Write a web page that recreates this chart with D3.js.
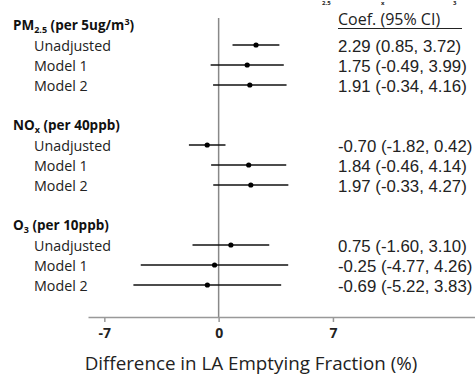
<!DOCTYPE html>
<html>
<head>
<meta charset="utf-8">
<script src="https://cdn.jsdelivr.net/npm/d3@7"></script>
<style>
  body { margin: 0; background: #fff; }
  svg { display: block; }
</style>
</head>
<body>
<div id="chart"></div>
<script>
// group headers, split in parts: [text, kind]
const groupLabels = [
  [["PM", ""], ["2.5", "sub"], [" (per 5ug/m", ""], ["3", "sup"], [")", ""]],
  [["NO", ""], ["x", "sub"], [" (per 40ppb)", ""]],
  [["O", ""], ["3", "sub"], [" (per 10ppb)", ""]]
];
const models = ["Unadjusted", "Model 1", "Model 2"];
const coef  = [2.29, 1.75, 1.91, -0.70, 1.84, 1.97, 0.75, -0.25, -0.69];
const lower = [0.85, -0.49, -0.34, -1.82, -0.46, -0.33, -1.60, -4.77, -5.22];
const upper = [3.72, 3.99, 4.16, 0.42, 4.14, 4.27, 3.10, 4.26, 3.83];
const xTicks = [-7, 0, 7];
const topSubs = [["2.5", 322], ["x", 381], ["3", 453]]; // remains of a title above

const w = 475, h = 377;
const svg = d3.select("#chart").append("svg")
  .attr("width", w).attr("height", h);

const xScale = d3.scaleLinear().domain([-8, 15.7]).range([88, 475]);
// slot 0 = first header, rows every slot, 5 slots per group
const yScale = d3.scaleLinear().domain([0, 13]).range([25, 285]);
const axisY = 317;

const lfont = "'Open Sans', sans-serif";

svg.selectAll("text.top")
  .data(topSubs)
  .enter().append("text")
  .attr("class", "top")
  .attr("x", d => d[1]).attr("y", 5)
  .attr("font-family", lfont).attr("font-weight", "bold")
  .attr("font-size", 6).attr("fill", "#222")
  .text(d => d[0]);

// zero line
svg.append("line")
  .attr("x1", xScale(0)).attr("x2", xScale(0))
  .attr("y1", 18).attr("y2", axisY)
  .attr("stroke", "#888").attr("stroke-width", 1.5);

// x axis
const xAxis = d3.axisBottom(xScale).tickValues(xTicks)
  .tickFormat(d => String(d)).tickSize(5).tickSizeOuter(0);
const gx = svg.append("g")
  .attr("transform", "translate(0," + axisY + ")")
  .call(xAxis);
gx.select(".domain").attr("stroke", "#999").attr("stroke-width", 1.5);
gx.selectAll(".tick line").attr("stroke", "#999").attr("stroke-width", 1.5);
gx.selectAll(".tick text")
  .attr("y", 11)
  .attr("font-family", lfont).attr("font-weight", "bold")
  .attr("font-size", 14).attr("fill", "#222");

svg.append("text")
  .attr("x", 251).attr("y", 370)
  .attr("text-anchor", "middle")
  .attr("font-family", lfont).attr("font-size", 18.8).attr("fill", "#222")
  .text("Difference in LA Emptying Fraction (%)");

// group headers
groupLabels.forEach((parts, g) => {
  const t = svg.append("text")
    .attr("x", 13).attr("y", yScale(g * 5))
    .attr("dy", "0.35em")
    .attr("font-family", lfont).attr("font-weight", "bold")
    .attr("font-size", 13.5).attr("fill", "#111");
  parts.forEach((p, k) => {
    const s = t.append("tspan").text(p[0]);
    if (p[1] === "sub") s.attr("font-size", 9).attr("dy", 3);
    if (p[1] === "sup") s.attr("font-size", 9).attr("dy", -5);
    if (p[1] === "" && k > 0) {
      if (parts[k - 1][1] === "sub") s.attr("dy", -3);
      if (parts[k - 1][1] === "sup") s.attr("dy", 5);
    }
  });
});

const rows = coef.map((c, i) => ({
  c: c, lo: lower[i], hi: upper[i],
  model: models[i % 3],
  slot: Math.floor(i / 3) * 5 + 1 + (i % 3)
}));

// model labels
svg.selectAll("text.model")
  .data(rows)
  .enter().append("text")
  .attr("class", "model")
  .attr("x", 34).attr("y", d => yScale(d.slot) + 1)
  .attr("dy", "0.35em")
  .attr("font-family", lfont).attr("font-size", 14.3).attr("fill", "#222")
  .text(d => d.model);

// CI lines
svg.selectAll("line.ci")
  .data(rows)
  .enter().append("line")
  .attr("class", "ci")
  .attr("x1", d => xScale(d.lo)).attr("x2", d => xScale(d.hi))
  .attr("y1", d => yScale(d.slot)).attr("y2", d => yScale(d.slot))
  .attr("stroke", "#111").attr("stroke-width", 1.6);

svg.selectAll("circle.pt")
  .data(rows)
  .enter().append("circle")
  .attr("class", "pt")
  .attr("cx", d => xScale(d.c)).attr("cy", d => yScale(d.slot))
  .attr("r", 2.6).attr("fill", "#000");

// coefficient column
svg.append("text")
  .attr("x", 338).attr("y", 19).attr("dy", "0.35em")
  .attr("font-family", lfont).attr("font-size", 16).attr("fill", "#222")
  .text("Coef. (95% CI)");
svg.append("line")
  .attr("x1", 338).attr("x2", 462).attr("y1", 28.5).attr("y2", 28.5)
  .attr("stroke", "#222").attr("stroke-width", 1.2);

const fmt = v => v.toFixed(2);
svg.selectAll("text.coef")
  .data(rows)
  .enter().append("text")
  .attr("class", "coef")
  .attr("x", 338).attr("y", d => yScale(d.slot) + 1)
  .attr("dy", "0.35em")
  .attr("font-family", "'Liberation Sans', Arial, sans-serif")
  .attr("font-size", 16.8).attr("fill", "#222")
  .text(d => fmt(d.c) + " (" + fmt(d.lo) + ", " + fmt(d.hi) + ")");
</script>
</body>
</html>
